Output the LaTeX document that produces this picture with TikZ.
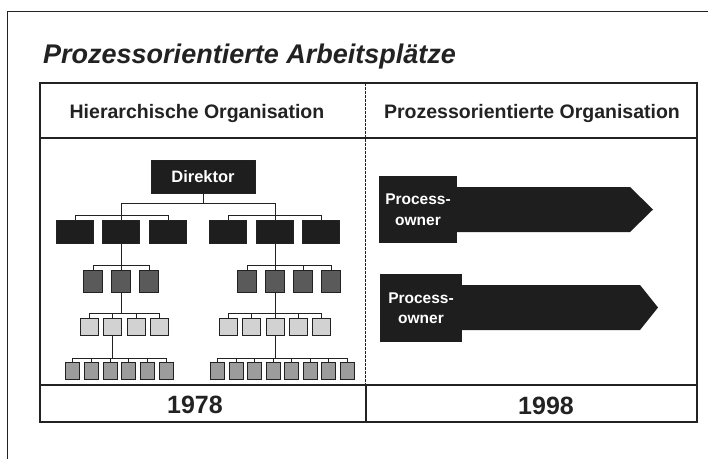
\documentclass[tikz,border=0pt]{standalone}
\usepackage{fontspec}
\setmainfont{Liberation Sans}
\definecolor{ink}{HTML}{222222}
\definecolor{dark}{HTML}{1E1E1E}
\definecolor{midgray}{HTML}{5A5A5A}
\definecolor{light}{HTML}{D2D2D2}
\definecolor{pale}{HTML}{9C9C9C}
\begin{document}
\begin{tikzpicture}[x=1pt,y=-1pt,
  box/.style={draw=ink,line width=0.9pt,inner sep=0pt,outer sep=0pt},
  chief/.style={box,fill=dark,text=white,minimum width=104pt,minimum height=33pt,
    font=\bfseries\fontsize{16.5}{18}\selectfont},
  lone/.style={box,fill=dark,minimum width=37pt,minimum height=23pt},
  ltwo/.style={box,fill=midgray,minimum width=19pt,minimum height=22pt},
  lthree/.style={box,fill=light,minimum width=18pt,minimum height=17pt},
  lfour/.style={box,fill=pale,minimum width=14pt,minimum height=17pt},
  link/.style={draw=ink,line width=1pt},
  owner/.style={fill=dark,text=white,inner sep=0pt,align=center,
    font=\bfseries\fontsize{15.5}{20.5}\selectfont},
  head/.style={anchor=base,text=ink,font=\bfseries\fontsize{19.5}{22}\selectfont},
  year/.style={anchor=base,text=ink,font=\bfseries\fontsize{25}{28}\selectfont}]
\useasboundingbox (0,0) rectangle (708,459);
\fill[white] (0,0) rectangle (708,459);
\draw[ink,line width=1pt] (708,11) -| (7,459);
\node[anchor=base west,inner sep=0pt,text=ink,font=\bfseries\itshape\fontsize{27}{30}\selectfont]
  (title) at (43,63) {Prozessorientierte Arbeitsplätze};

\draw[ink,line width=1.2pt] (40,83) rectangle (697,422);
\draw[ink,line width=1.2pt] (40,138) -- (697,138);
\draw[ink,line width=1.2pt] (40,385) -- (697,385);
\draw[ink,line width=1pt,dash pattern=on 2.5pt off 1.5pt] (365,83) -- (365,385);
\draw[ink,line width=1.2pt] (366,385) -- (366,422);
\node[head] (hl) at (197,118) {Hierarchische Organisation};
\node[head] (hr) at (532,118) {Prozessorientierte Organisation};
\node[year] (y1) at (195,413) {1978};
\node[year] (y2) at (546,414) {1998};

\node[chief] (dir) at (203,176.5) {Direktor};
\coordinate (gl) at (121,215);
\coordinate (gr) at (275,215);
\draw[link] (dir.south) -- ++(0,10) coordinate (db);
\draw[link] (gl) |- (db);
\draw[link] (gr) |- (db);
\foreach \x [count=\i] in {75,121,168,228,275,321}
  \node[lone] (a\i) at (\x,231.5) {};
\foreach \i in {1,2,3} \draw[link] (a\i.north) |- (gl);
\foreach \i in {4,5,6} \draw[link] (a\i.north) |- (gr);

\foreach \x [count=\i] in {93,121,149}
  \node[ltwo] (bl\i) at (\x,281) {};
\foreach \x [count=\i] in {247,275,303,331}
  \node[ltwo] (br\i) at (\x,281) {};
\draw[link] (a2.south) -- ++(0,22) coordinate (pl);
\draw[link] (a5.south) -- ++(0,22) coordinate (pr);
\foreach \i in {1,...,3} \draw[link] (bl\i.north) |- (pl);
\foreach \i in {1,...,4} \draw[link] (br\i.north) |- (pr);

\foreach \x [count=\i] in {89,112.5,136,159}
  \node[lthree] (cl\i) at (\x,326.5) {};
\foreach \x [count=\i] in {228.5,251.75,275,298.25,321.5}
  \node[lthree] (cr\i) at (\x,326.5) {};
\draw[link] (bl2.south) -- ++(0,21) coordinate (ql);
\draw[link] (br2.south) -- ++(0,21) coordinate (qr);
\foreach \i in {1,...,4} \draw[link] (cl\i.north) |- (ql);
\foreach \i in {1,...,5} \draw[link] (cr\i.north) |- (qr);

\foreach \i in {1,...,6}
  \node[lfour] (dl\i) at ({72.8+(\i-1)*18.7},370.5) {};
\foreach \i in {1,...,8}
  \node[lfour] (dr\i) at ({217.8+(\i-1)*18.46},370.5) {};
\draw[link] (cl2.south) -- ++(0,23) coordinate (sl);
\draw[link] (cr3.south) -- ++(0,23) coordinate (sr);
\foreach \i in {1,...,6} \draw[link] (dl\i.north) |- (sl);
\foreach \i in {1,...,8} \draw[link] (dr\i.north) |- (sr);

\fill[dark] (457,187) -- (630,187) -- (653,209.5) -- (630,232) -- (457,232) -- cycle;
\node[owner,minimum width=78pt,minimum height=67pt] (p1) at (418,209.5) {Process-\\owner};
\fill[dark] (462,285) -- (640,285) -- (658,307.5) -- (640,330) -- (462,330) -- cycle;
\node[owner,minimum width=82pt,minimum height=68pt] (p2) at (421,308) {Process-\\owner};
\end{tikzpicture}
\end{document}
